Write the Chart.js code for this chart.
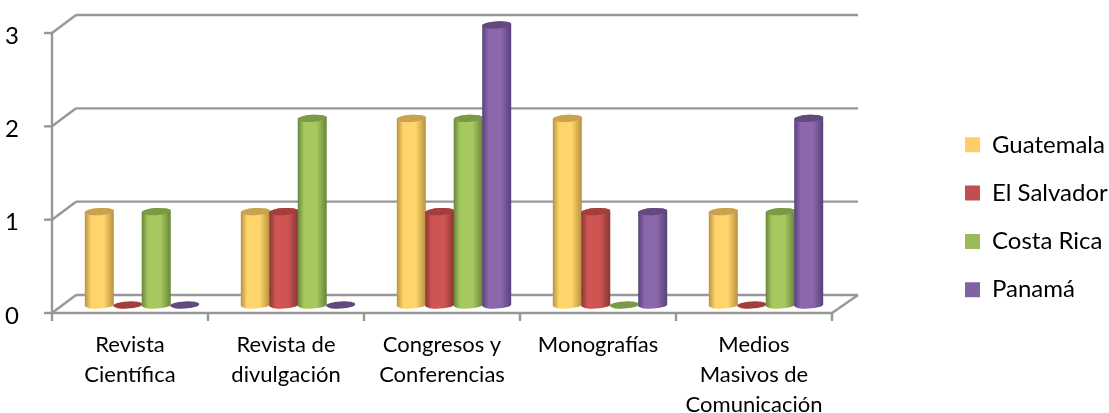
<!DOCTYPE html>
<html>
<head>
<meta charset="utf-8">
<script src="https://cdn.jsdelivr.net/npm/chart.js@4/dist/chart.umd.min.js"></script>
<style>
	html, body { margin: 0; padding: 0; background: #fff; }
	canvas { display: block; }
</style>
</head>
<body>
<canvas id="chart" width="1109" height="413"></canvas>
<script>
const categories = [
	['Revista', 'Científica'],
	['Revista de', 'divulgación'],
	['Congresos y', 'Conferencias'],
	['Monografías'],
	['Medios', 'Masivos de', 'Comunicación'],
]
const guatemala = [1, 1, 2, 2, 1]
const elSalvador = [0, 1, 1, 1, 0]
const costaRica = [1, 2, 2, 0, 1]
const panama = [0, 0, 3, 1, 2]
const yTicks = [0, 1, 2, 3]

const fontFamily = 'Lato'
const frameColor = '#979797'

// [legend, cylinder centre, cylinder edge, top cap]
const yellow = ['#ffcc66', '#ffd56b', '#b8913f', '#c9a24f']
const red = ['#c0504d', '#cf5553', '#8a3532', '#a33e3b']
const green = ['#9bbb59', '#a6c95f', '#68853a', '#7c9a46']
const purple = ['#8064a2', '#8a68ab', '#57417a', '#64497f']

const makeSeries = (label, data, colors) => ({
	label,
	data,
	colors,
	backgroundColor: colors[0],
	borderWidth: 0,
	categoryPercentage: 0.73,
	barPercentage: 1.02,
})

// the fake 3d floor and walls, hung off the real scales
const frame3d = (chart) => {
	const { ctx, scales: { x, y } } = chart
	const catWidth = x.width / categories.length
	const frontX = x.left - 12
	const frontRight = x.right - 12
	const backX = x.left + 12
	const backRight = x.right + 14
	const line = (x1, y1, x2, y2) => {
		ctx.beginPath()
		ctx.moveTo(x1, y1)
		ctx.lineTo(x2, y2)
		ctx.stroke()
	}

	ctx.save()
	ctx.strokeStyle = frameColor
	ctx.lineWidth = 2.4
	yTicks.forEach((v) => {
		const py = y.getPixelForValue(v)
		line(frontX - 8, py + 8, frontX, py + 8)
		line(frontX, py + 8, backX, py - 10)
		line(backX, py - 10, backRight, py - 10)
	})
	const y0 = y.getPixelForValue(0)
	line(frontX, y.getPixelForValue(3) + 8, frontX, y0 + 9)
	line(frontX, y0 + 8, frontRight, y0 + 8)
	line(frontRight, y0 + 8, backRight, y0 - 10)
	for (let i = 0; i <= categories.length; i++) {
		const px = frontX + i * catWidth
		line(px, y0 + 8, px, y0 + 16)
	}
	ctx.restore()
}

const drawCylinder = (ctx, bar, colors) => {
	const { x, y, base, width } = bar
	const rx = width / 2
	const ry = 3.6
	const tilt = -0.06

	if (Math.abs(base - y) > 1) {
		const grad = ctx.createLinearGradient(x - rx, 0, x + rx, 0)
		grad.addColorStop(0, colors[2])
		grad.addColorStop(0.22, colors[1])
		grad.addColorStop(0.65, colors[1])
		grad.addColorStop(1, colors[2])
		ctx.beginPath()
		ctx.ellipse(x, y, rx, ry, tilt, Math.PI, 0)
		ctx.ellipse(x, base, rx, ry, tilt, 0, Math.PI)
		ctx.closePath()
		ctx.fillStyle = grad
		ctx.fill()
	}

	ctx.beginPath()
	ctx.ellipse(x, y, rx, ry, tilt, 0, Math.PI * 2)
	ctx.fillStyle = colors[3]
	ctx.fill()
}

const cylinders = {
	id: 'cylinders',
	afterLayout(chart) {
		// legend sits apart from the plot, like the original
		const legend = chart.legend
		legend.left = 940.7
		legend.right = 1120
		legend.top = 108.5
		legend.bottom = 413
	},
	beforeDatasetsDraw(chart) {
		const { ctx } = chart
		frame3d(chart)
		chart.data.datasets.forEach((ds, i) => {
			chart.getDatasetMeta(i).data.forEach((bar) => drawCylinder(ctx, bar, ds.colors))
		})
		return false
	},
}

new Chart(document.getElementById('chart'), {
	type: 'bar',
	plugins: [cylinders],
	data: {
		labels: categories,
		datasets: [
			makeSeries('Guatemala', guatemala, yellow),
			makeSeries('El Salvador', elSalvador, red),
			makeSeries('Costa Rica', costaRica, green),
			makeSeries('Panamá', panama, purple),
		],
	},
	options: {
		responsive: false,
		animation: false,
		layout: { padding: { top: 25, right: 265, left: 0, bottom: 0 } },
		plugins: {
			tooltip: { enabled: false },
			legend: {
				position: 'chartArea',
				align: 'start',
				labels: {
					boxWidth: 15,
					boxHeight: 15,
					padding: 24.3,
					color: '#000',
					font: { family: fontFamily, size: 24 },
				},
			},
		},
		scales: {
			x: {
				afterFit(scale) {
					scale.height = 108
				},
				grid: { display: false },
				border: { display: false },
				ticks: {
					color: '#000',
					maxRotation: 0,
					autoSkip: false,
					labelOffset: -12,
					padding: 17,
					font: { family: fontFamily, size: 22, lineHeight: 1.36 },
				},
			},
			y: {
				min: 0,
				max: 3,
				afterFit(scale) {
					scale.width = 64
					// tick padding would otherwise push the plot down
					scale.paddingTop = 0
					scale.paddingBottom = 0
				},
				grid: { display: false },
				border: { display: false },
				ticks: {
					color: '#000',
					stepSize: 1,
					labelOffset: 11,
					padding: 37,
					font: { family: fontFamily, size: 24 },
				},
			},
		},
	},
})
</script>
</body>
</html>
